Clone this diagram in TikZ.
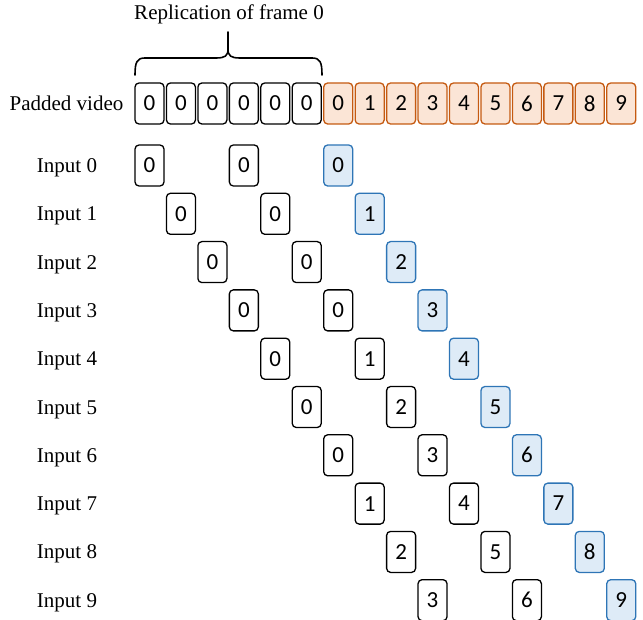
\documentclass[tikz,border=0pt]{standalone}
\usepackage{fontspec}
\setmainfont{Liberation Serif}
\newfontfamily\numfont{Carlito}
\definecolor{orgline}{HTML}{C55A11}
\definecolor{orgfill}{HTML}{FBE5D6}
\definecolor{blueline}{HTML}{2E75B6}
\definecolor{bluefill}{HTML}{DEEBF7}
\begin{document}
\begin{tikzpicture}[x=1pt,y=-1pt,
  frame/.style={draw=black,fill=white,line width=1.3pt,rounded corners=4pt,minimum width=29pt,minimum height=41pt,inner sep=0pt,font=\numfont\fontsize{23}{23}\selectfont},
  orgbox/.style={frame,draw=orgline,fill=orgfill},
  bluebox/.style={frame,draw=blueline,fill=bluefill},
  lbl/.style={font=\fontsize{21}{21}\selectfont,anchor=base,inner sep=0pt}]
\useasboundingbox (0,0) rectangle (643,620);
% title and brace
\node[lbl] (title) at (229,20) {Replication of frame 0};
\coordinate (bl) at (135,75);
\coordinate (br) at (322,75);
\coordinate (tip) at (228,32);
\draw[line width=1.6pt,line cap=round]
  (bl) .. controls (135,62) and (137,58) .. (145,58) -- (216,58)
  .. controls (225,58) and (228,56) .. (228,49) -- (tip);
\draw[line width=1.6pt,line cap=round]
  (br) .. controls (322,62) and (320,58) .. (312,58) -- (240,58)
  .. controls (231,58) and (228,56) .. (228,49);
% padded video
\node[lbl] (padlbl) at (66.5,111) {Padded video};
\foreach \i in {0,...,5} {
  \node[frame] (p\i) at ({149.5+31.45*\i},103.5) {0};
}
\foreach \j in {0,...,9} {
  \pgfmathtruncatemacro\c{\j+6}
  \node[orgbox] (p\c) at ({149.5+31.45*\c},103.5) {\j};
}
% inputs
\foreach \k in {0,...,9} {
  \pgfmathsetmacro\yy{165.5+48.3*\k}
  \node[lbl] (in\k) at (67,\yy+7) {Input \k};
  \pgfmathtruncatemacro\va{max(0,\k-6)}
  \pgfmathtruncatemacro\vb{max(0,\k-3)}
  \node[frame] (a\k) at ({149.5+31.45*\k},\yy) {\va};
  \node[frame] (b\k) at ({149.5+31.45*(\k+3)},\yy) {\vb};
  \node[bluebox] (c\k) at ({149.5+31.45*(\k+6)},\yy) {\k};
}
\end{tikzpicture}
\end{document}
